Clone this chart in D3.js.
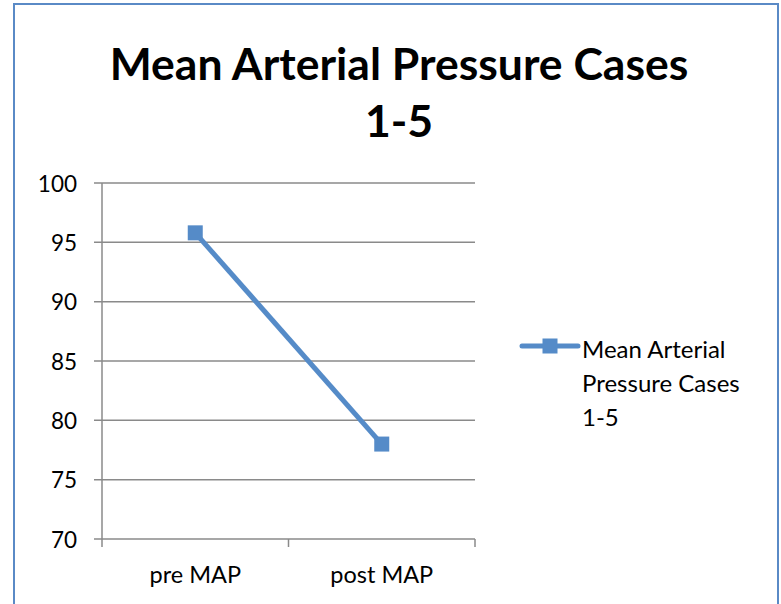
<!DOCTYPE html>
<html>
<head>
<meta charset="utf-8">
<script src="https://cdn.jsdelivr.net/npm/d3@7"></script>
<style>
  html, body { margin: 0; padding: 0; background: #fff; }
  svg { display: block; }
  text { font-family: Lato, "Open Sans", sans-serif; fill: #000; }
</style>
</head>
<body>
<script>
const titleLines = ["Mean Arterial Pressure Cases", "1-5"];
const categories = ["pre MAP", "post MAP"];
const seriesName = ["Mean Arterial", "Pressure Cases", "1-5"];
const seriesValues = [95.8, 78.0];
const yTicks = [70, 75, 80, 85, 90, 95, 100];

const W = 781, H = 604;
const color = "#558bc8";
const gridColor = "#8a8a8a";

const svg = d3.select("body").append("svg").attr("width", W).attr("height", H);

// chart area border
svg.append("rect")
  .attr("x", 14).attr("y", 4).attr("width", 764).attr("height", 620)
  .attr("fill", "#fff").attr("stroke", "#5a8ac6").attr("stroke-width", 2);

// title
svg.append("g").selectAll("text").data(titleLines).join("text")
  .attr("x", 399).attr("y", (d, i) => 80 + i * 57)
  .attr("text-anchor", "middle")
  .attr("font-weight", "bold").attr("font-size", 44.5)
  .text(d => d);

const plot = { left: 102, right: 475, top: 183, bottom: 539 };
const y = d3.scaleLinear().domain([70, 100]).range([plot.bottom, plot.top]);
const x = d3.scaleBand().domain(categories).range([plot.left, plot.right]);

// gridlines + y tick marks
svg.append("g").selectAll("line").data(yTicks).join("line")
  .attr("x1", plot.left - 8).attr("x2", plot.right)
  .attr("y1", d => y(d)).attr("y2", d => y(d))
  .attr("stroke", gridColor).attr("stroke-width", 1.5);

// y axis line
svg.append("line")
  .attr("x1", plot.left).attr("x2", plot.left)
  .attr("y1", plot.top).attr("y2", plot.bottom)
  .attr("stroke", gridColor).attr("stroke-width", 1.5);

// x axis ticks at band boundaries
const xb = [plot.left, ...categories.slice(1).map(c => x(c)), plot.right];
svg.append("g").selectAll("line").data(xb).join("line")
  .attr("x1", d => d).attr("x2", d => d)
  .attr("y1", plot.bottom).attr("y2", plot.bottom + 8)
  .attr("stroke", gridColor).attr("stroke-width", 1.5);

// y labels
svg.append("g").selectAll("text").data(yTicks).join("text")
  .attr("x", 77).attr("y", d => y(d) + 8.5)
  .attr("text-anchor", "end").attr("font-size", 22.5)
  .text(d => d);

// x labels
svg.append("g").selectAll("text").data(categories).join("text")
  .attr("x", d => x(d) + x.bandwidth() / 2).attr("y", 583)
  .attr("text-anchor", "middle").attr("font-size", 23.5)
  .text(d => d);

// series line
const pts = categories.map((c, i) => [x(c) + x.bandwidth() / 2, y(seriesValues[i])]);
svg.append("path")
  .attr("d", d3.line()(pts))
  .attr("fill", "none").attr("stroke", color).attr("stroke-width", 5);

const ms = 15;
svg.append("g").selectAll("rect").data(pts).join("rect")
  .attr("x", d => d[0] - ms / 2).attr("y", d => d[1] - ms / 2)
  .attr("width", ms).attr("height", ms)
  .attr("fill", color);

// legend
const lg = svg.append("g");
lg.append("line").attr("x1", 522).attr("x2", 578).attr("y1", 346).attr("y2", 346)
  .attr("stroke", color).attr("stroke-width", 5).attr("stroke-linecap", "round");
lg.append("rect").attr("x", 550 - ms / 2).attr("y", 346 - ms / 2)
  .attr("width", ms).attr("height", ms).attr("fill", color);
lg.selectAll("text").data(seriesName).join("text")
  .attr("x", 582).attr("y", (d, i) => 358 + i * 34)
  .attr("font-size", 24)
  .text(d => d);
</script>
</body>
</html>
